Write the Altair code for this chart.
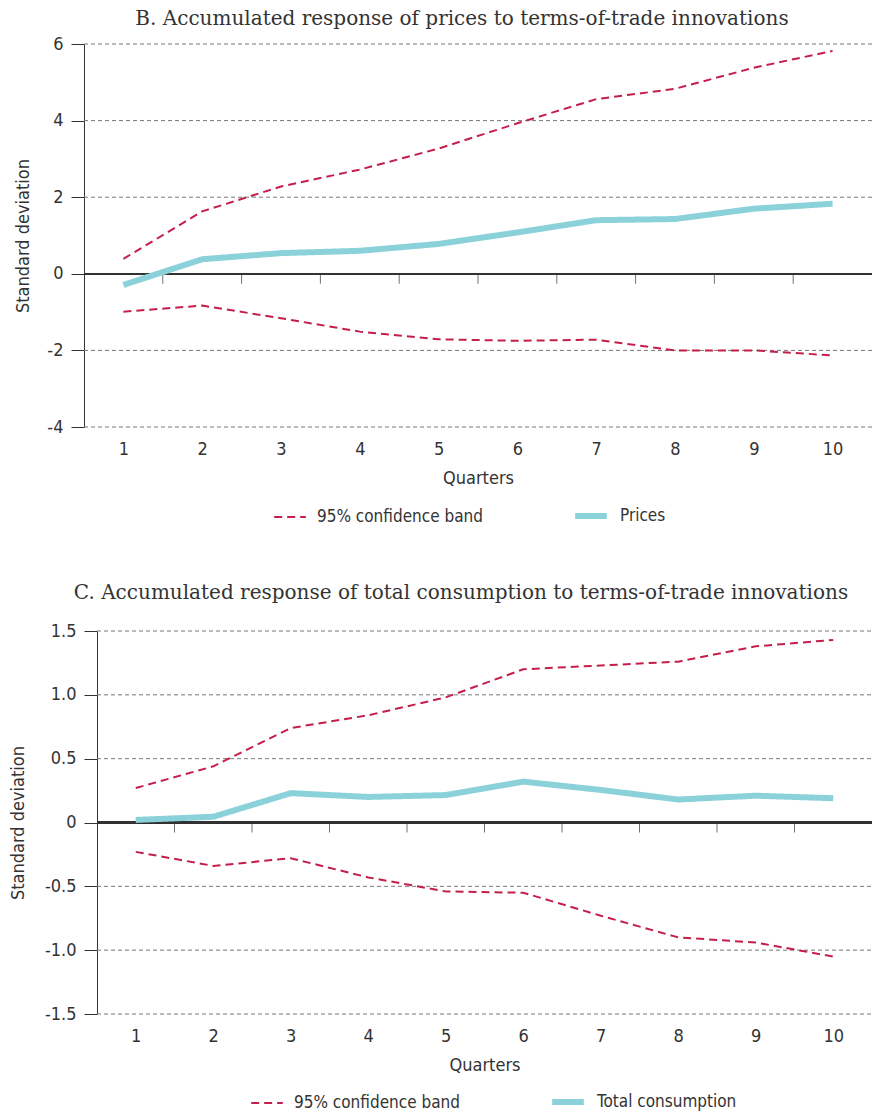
import altair as alt
import pandas as pd

quarters = [1, 2, 3, 4, 5, 6, 7, 8, 9, 10]
tick_positions = [1.5, 2.5, 3.5, 4.5, 5.5, 6.5, 7.5, 8.5, 9.5]

band_name = "95% confidence band"

# Panel B: prices
b_upper = [0.39, 1.63, 2.28, 2.72, 3.27, 3.93, 4.56, 4.83, 5.38, 5.82]
b_prices = [-0.29, 0.38, 0.54, 0.60, 0.78, 1.08, 1.40, 1.43, 1.70, 1.83]
b_lower = [-0.99, -0.83, -1.16, -1.51, -1.71, -1.75, -1.72, -2.00, -2.00, -2.13]
b_ticks = [-4, -2, 0, 2, 4, 6]

# Panel C: total consumption
c_upper = [0.27, 0.44, 0.74, 0.84, 0.98, 1.20, 1.23, 1.26, 1.38, 1.43]
c_total = [0.02, 0.045, 0.23, 0.20, 0.215, 0.32, 0.255, 0.18, 0.21, 0.19]
c_lower = [-0.23, -0.34, -0.28, -0.43, -0.54, -0.55, -0.73, -0.90, -0.94, -1.05]
c_ticks = [-1.5, -1.0, -0.5, 0, 0.5, 1.0, 1.5]

RED = "#C41E4A"
TEAL = "#8BD1DA"
INK = "#333333"
GRID = "#777777"
COND = "'DejaVu Sans Condensed', 'Liberation Sans Narrow', 'Roboto Condensed', Roboto, sans-serif"
SERIF = "'DejaVu Serif', 'Liberation Serif', serif"

WIDTH = 788
HEIGHT = 383


def panel(title, title_offset, title_dx, upper, mid, lower, mid_name, ticks, decimals,
          inset, title_pad, legend_x, legend_y):
    rows = []
    for q, u, m, l in zip(quarters, upper, mid, lower):
        rows.append({"q": q, "v": u, "series": band_name, "line": "upper"})
        rows.append({"q": q, "v": l, "series": band_name, "line": "lower"})
        rows.append({"q": q, "v": m, "series": mid_name, "line": "mid"})
    df = pd.DataFrame(rows)
    ticks_df = pd.DataFrame({"q": tick_positions})
    grid_df = pd.DataFrame({"v": [t for t in ticks if t != 0]})

    label_expr = (
        "datum.value == 0 ? '0' : (datum.value < 0 ? '-' : '') + "
        f"format(abs(datum.value), '.{decimals}f')"
    )

    xscale = alt.Scale(domain=[0.5, 10.5], range=[inset, WIDTH], nice=False, zero=False)
    yscale = alt.Scale(domain=[min(ticks), max(ticks)], nice=False, zero=False)

    x_axis = alt.Axis(
        values=quarters, title="Quarters", ticks=False, domain=False, grid=False,
        labelPadding=13, titlePadding=11, format="d",
    )
    y_axis = alt.Axis(
        values=ticks, title="Standard deviation", grid=False,
        tickSize=13, tickColor=INK, domainColor=INK, offset=-inset,
        labelPadding=8, titlePadding=title_pad, labelExpr=label_expr,
    )

    domain = [band_name, mid_name]
    lines = alt.Chart(df).mark_line(strokeCap="butt").encode(
        x=alt.X("q:Q", scale=xscale, axis=x_axis),
        y=alt.Y("v:Q", scale=yscale, axis=y_axis),
        color=alt.Color(
            "series:N",
            scale=alt.Scale(domain=domain, range=[RED, TEAL]),
            legend=alt.Legend(
                title=None, orient="none", legendX=legend_x, legendY=legend_y,
                direction="horizontal", padding=0,
                symbolType="stroke", symbolSize=1000, columnPadding=80,
                labelFont=COND, labelFontSize=17, labelColor=INK,
                labelOffset=10, labelLimit=0,
            ),
        ),
        strokeDash=alt.StrokeDash(
            "series:N",
            scale=alt.Scale(domain=domain, range=[[8, 5], [1, 0]]),
            legend=alt.Legend(title=None),
        ),
        strokeWidth=alt.StrokeWidth(
            "series:N",
            scale=alt.Scale(domain=domain, range=[2, 6]),
            legend=alt.Legend(title=None),
        ),
        detail="line:N",
    )

    grid = alt.Chart(grid_df).mark_rule(
        color=GRID, strokeDash=[4, 3], strokeWidth=1
    ).encode(
        y=alt.Y("v:Q", scale=yscale, axis=y_axis),
        x=alt.X(datum=0.5, scale=xscale, axis=x_axis),
        x2=alt.X2(datum=10.5),
    )

    zero_rule = alt.Chart(df).mark_rule(color=INK, strokeWidth=1.3).encode(
        y=alt.Y(datum=0, scale=yscale),
        x=alt.X(datum=0.5, scale=xscale),
        x2=alt.X2(datum=10.5),
    )

    tick_marks = alt.Chart(ticks_df).mark_tick(
        orient="vertical", size=10, thickness=1, color=INK, yOffset=5
    ).encode(
        x=alt.X("q:Q", scale=xscale),
        y=alt.Y(datum=0, scale=yscale),
    )

    return alt.layer(grid, zero_rule, tick_marks, lines).properties(
        width=WIDTH,
        height=HEIGHT,
        title=alt.TitleParams(
            title, font=SERIF, fontSize=20, fontWeight="normal", color=INK,
            anchor="middle", frame="group", dx=title_dx, offset=title_offset,
        ),
    )


b = panel(
    "B. Accumulated response of prices to terms-of-trade innovations", 6, -16,
    b_upper, b_prices, b_lower, "Prices", b_ticks, 0, 0, 14, 189, 453,
)
c = panel(
    "C. Accumulated response of total consumption to terms-of-trade innovations", 19, -17,
    c_upper, c_total, c_lower, "Total consumption", c_ticks, 1, 13, 17, 166, 452,
)

chart = alt.vconcat(b, c, spacing=55).resolve_scale(
    color="independent", strokeDash="independent", strokeWidth="independent",
    y="independent", x="independent",
).properties(
    padding={"left": 9, "right": 0, "top": 9, "bottom": 0},
).configure_axis(
    labelFont=COND, labelFontSize=18, labelColor=INK,
    titleFont=COND, titleFontSize=18, titleFontWeight="normal", titleColor=INK,
).configure_view(stroke=None).configure_legend(
    labelFont=COND, labelFontSize=17, labelColor=INK,
)

chart.save("out.html", embed_options={"renderer": "svg", "actions": False})
